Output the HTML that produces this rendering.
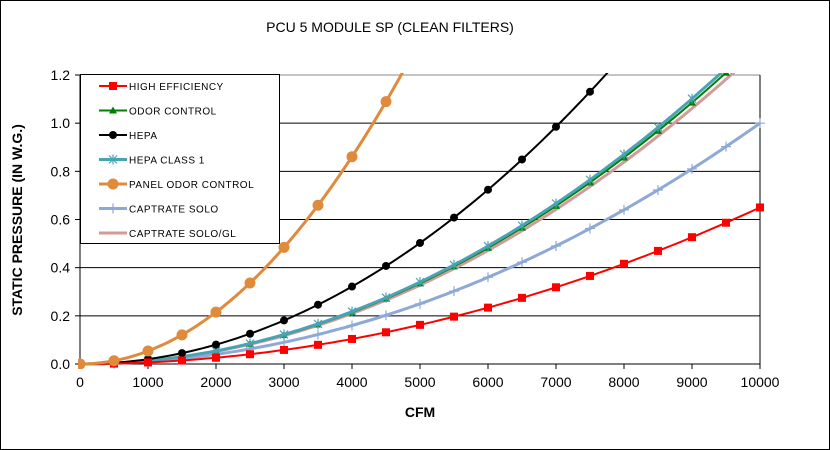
<!DOCTYPE html>
<html><head><meta charset="utf-8"><style>
body{margin:0;background:#fff;}
svg{display:block;font-family:"Liberation Sans",Arial,sans-serif;}
</style></head><body>
<svg id="s" width="830" height="450" xmlns="http://www.w3.org/2000/svg">
<rect x="0.5" y="0.5" width="829" height="449" fill="#fff" stroke="#000"/>
<text x="390" y="32" font-size="14" text-anchor="middle">PCU 5 MODULE SP (CLEAN FILTERS)</text>
<text x="420" y="417" font-size="14" font-weight="bold" text-anchor="middle">CFM</text>
<text transform="translate(22,220) rotate(-90)" font-size="14" font-weight="bold" text-anchor="middle">STATIC PRESSURE (IN W.G.)</text>
<g id="g"></g>
<clipPath id="c"><rect x="78" y="73" width="690" height="296"/></clipPath>
<g id="p" clip-path="url(#c)"></g>
<g id="lg"></g>
</svg>
<script>
const NS="http://www.w3.org/2000/svg";
function el(t,a,p){const e=document.createElementNS(NS,t);for(const k in a)e.setAttribute(k,a[k]);p.appendChild(e);return e;}
const g=document.getElementById('g'),p=document.getElementById('p'),lg=document.getElementById('lg');
const X=v=>80+v*0.068, Y=v=>364-v*(289/1.2);
for(let i=0;i<=6;i++){const y=Y(i*0.2);
 if(i>0)el('line',{x1:80,x2:760,y1:y,y2:y,stroke:i==6?'#888':'#000','stroke-width':1},g);
 el('line',{x1:75,x2:80,y1:y,y2:y,stroke:'#000'},g);
 el('text',{x:70,y:y+5,'font-size':14,'text-anchor':'end'},g).textContent=(i*0.2).toFixed(1);}
el('line',{x1:80,x2:80,y1:75,y2:364,stroke:'#000'},g);
el('line',{x1:760,x2:760,y1:75,y2:364,stroke:'#000'},g);
el('line',{x1:80,x2:760,y1:364,y2:364,stroke:'#000'},g);
for(let i=0;i<=10;i++){const x=X(i*1000);
 el('line',{x1:x,x2:x,y1:364,y2:369,stroke:'#000'},g);
 el('text',{x:x,y:387,'font-size':14,'text-anchor':'middle'},g).textContent=i*1000;}
const S=[
["HIGH EFFICIENCY",0.0065,'#ff0000','sq',2],
["ODOR CONTROL",0.0134,'#008000','tri',2],
["HEPA",0.0201,'#000','dot',2],
["HEPA CLASS 1",0.0136,'#4aa3b5','star',3],
["PANEL ODOR CONTROL",0.0538,'#e08a3c','bigdot',3],
["CAPTRATE SOLO",0.01,'#8ea9d6','plus',3],
["CAPTRATE SOLO/GL",0.0131,'#d49a9a','none',3]];
function mk(t,x,y,c,par){
 if(t=='sq')el('rect',{x:x-4,y:y-4,width:8,height:8,fill:c},par);
 else if(t=='tri')el('path',{d:`M${x} ${y-4}L${x+4} ${y+3}L${x-4} ${y+3}Z`,fill:c},par);
 else if(t=='dot')el('circle',{cx:x,cy:y,r:4,fill:c},par);
 else if(t=='bigdot')el('circle',{cx:x,cy:y,r:5.5,fill:c},par);
 else if(t=='star'){el('path',{d:`M${x-4} ${y-4}L${x+4} ${y+4}M${x+4} ${y-4}L${x-4} ${y+4}M${x} ${y-5}V${y+5}`,stroke:c,'stroke-width':1.2},par);}
 else if(t=='plus')el('path',{d:`M${x-5} ${y}H${x+5}M${x} ${y-5}V${y+5}`,stroke:c,'stroke-width':1.2},par);
}
const order=[6,5,1,3,2,0,4];
order.forEach(i=>{const [n,k,c,m,w]=S[i];let d='';
 for(let v=0;v<=10000;v+=100){const q=k*(v/1000)**2;d+=(v?'L':'M')+X(v).toFixed(1)+' '+Y(q).toFixed(1);}
 el('path',{d:d,fill:'none',stroke:c,'stroke-width':w},p);
 for(let v=0;v<=10000;v+=500){const q=k*(v/1000)**2;if(Y(q)>70)mk(m,X(v),Y(q),c,p);}
});
el('rect',{x:80.5,y:74.5,width:199,height:169,fill:'#fff',stroke:'#000'},lg);
S.forEach((s,i)=>{const y=86+i*24.5;
 el('line',{x1:99,x2:127,y1:y,y2:y,stroke:s[2],'stroke-width':s[4]},lg);
 mk(s[3],113,y,s[2],lg);
 el('text',{x:129,y:y+4,'font-size':10,'letter-spacing':'0.5'},lg).textContent=s[0];});
</script>
</body></html>
